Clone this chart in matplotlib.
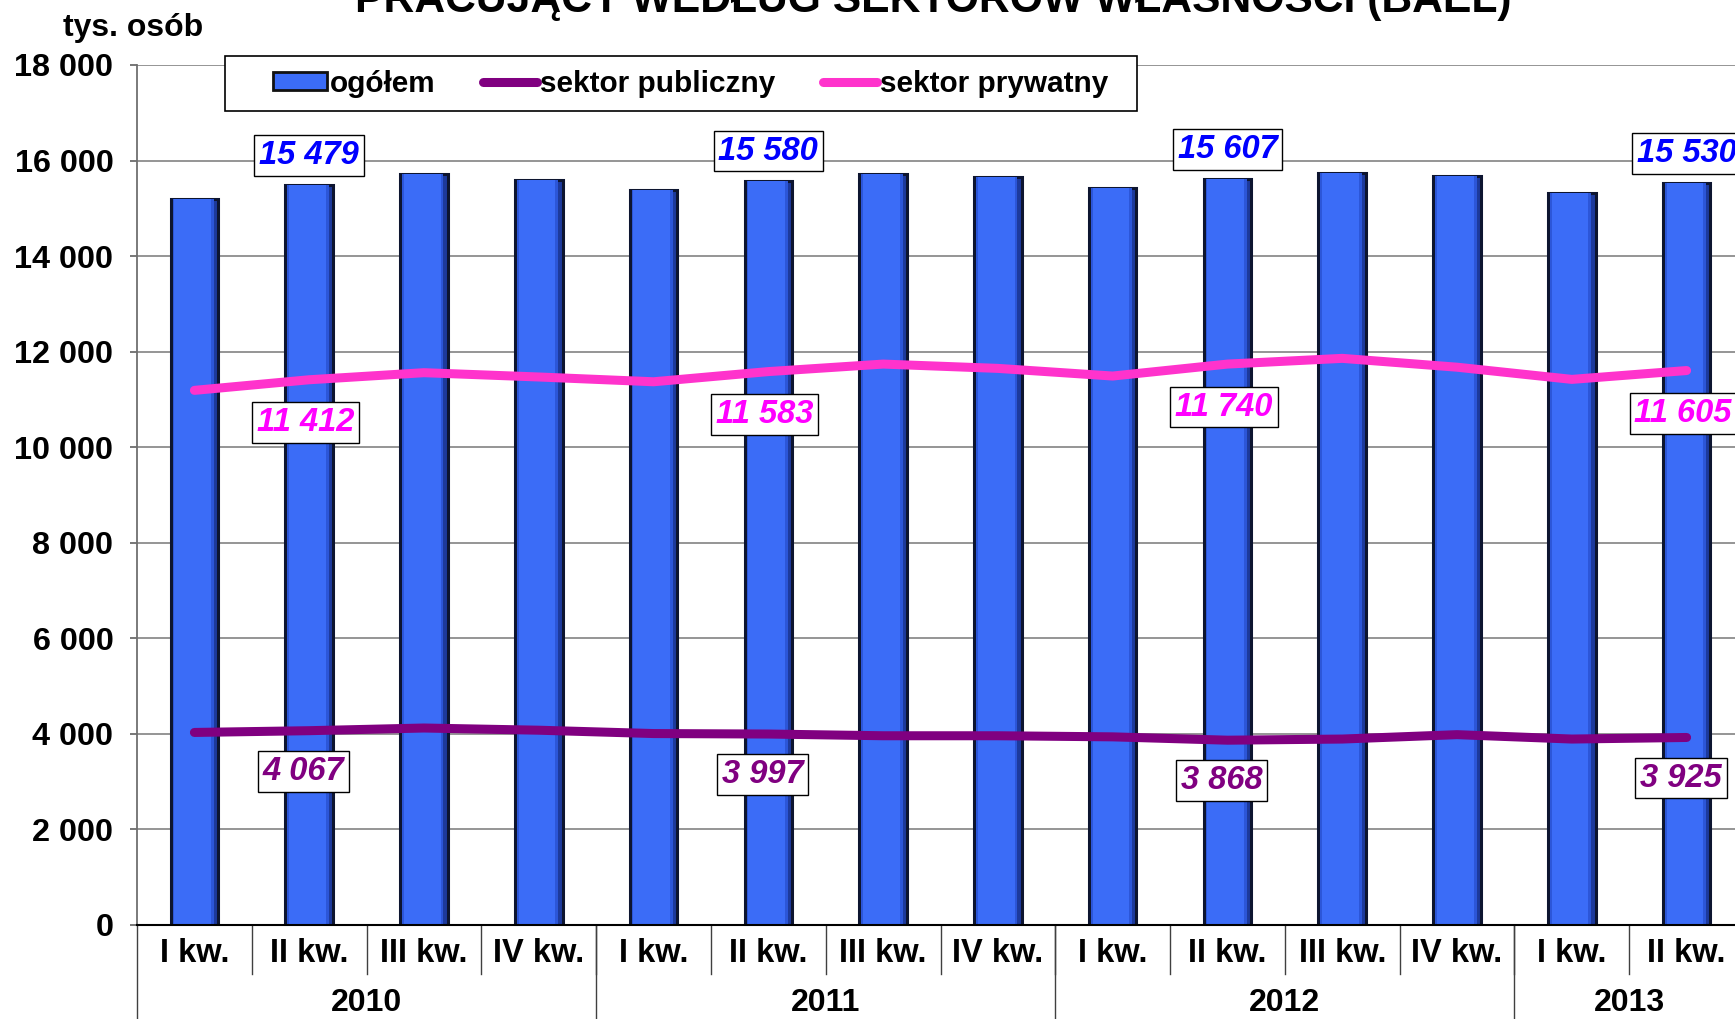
import matplotlib
matplotlib.use("Agg")
import matplotlib.pyplot as plt
from matplotlib.patches import Patch, Rectangle
from matplotlib.lines import Line2D
from matplotlib.ticker import FuncFormatter
import matplotlib.transforms as mtransforms

plt.rcParams['font.family'] = ['Liberation Sans', 'DejaVu Sans']
plt.rcParams['font.weight'] = 'bold'

# dane (tys. osób)
kwartaly = ['I kw.', 'II kw.', 'III kw.', 'IV kw.'] * 3 + ['I kw.', 'II kw.']
lata = ['2010', '2011', '2012', '2013']
lata_n = [4, 4, 4, 2]
ogolem = [15200, 15479, 15720, 15590, 15380, 15580, 15720, 15650,
          15430, 15607, 15750, 15680, 15330, 15530]
prywatny = [11190, 11412, 11560, 11470, 11370, 11583, 11740, 11650,
            11490, 11740, 11860, 11675, 11420, 11605]
publiczny = [4030, 4067, 4123, 4077, 4007, 3997, 3961, 3961,
             3938, 3868, 3892, 3984, 3892, 3925]
etykiety_idx = [1, 5, 9, 13]

BLUE = '#3b6cf7'
PURPLE = '#800080'
PINK = '#ff33cc'

fig = plt.figure(figsize=(17.35, 10.19), dpi=100)
ax = fig.add_axes([137 / 1735, 94 / 1019, 1607 / 1735, 860 / 1019])

x = list(range(len(ogolem)))
# słupki z prostym cieniowaniem (ciemne boki, jasny środek)
ax.bar(x, ogolem, width=0.415, color='#1d3a9c', edgecolor='#0d1530', linewidth=2.2, zorder=2)
ax.bar([i - 0.01 for i in x], ogolem, width=0.36, color='#2c56d8', linewidth=0, zorder=2.1)
ax.bar([i - 0.015 for i in x], ogolem, width=0.32, color=BLUE, linewidth=0, zorder=2.2)
ax.plot(x, publiczny, color=PURPLE, lw=6.5, solid_capstyle='round', zorder=3)
ax.plot(x, prywatny, color=PINK, lw=6.5, solid_capstyle='round', zorder=3)

# etykiety danych
for i in etykiety_idx:
    box = dict(boxstyle='square,pad=0.15', fc='white', ec='black', lw=1)
    ax.text(i, ogolem[i] + 620, f'{ogolem[i]:,}'.replace(',', ' '), ha='center', va='center',
            fontsize=23.5, style='italic', color='#0000ff', bbox=box, zorder=5)
    ax.text(i - 0.03, prywatny[i] - 900, f'{prywatny[i]:,}'.replace(',', ' '), ha='center',
            va='center', fontsize=23.5, style='italic', color='#ff00ff', bbox=box, zorder=5)
    ax.text(i - 0.05, publiczny[i] - 850, f'{publiczny[i]:,}'.replace(',', ' '), ha='center',
            va='center', fontsize=23.5, style='italic', color=PURPLE, bbox=box, zorder=5)

ax.set_xlim(-0.5, len(ogolem) - 0.5)
ax.set_ylim(0, 18000)
ax.set_yticks(range(0, 18001, 2000))
ax.yaxis.set_major_formatter(FuncFormatter(lambda v, p: f'{int(v):,}'.replace(',', ' ')))
ax.tick_params(axis='y', length=5, width=1.2, color='#606060', pad=12, labelsize=23.3)
ax.grid(axis='y', color='#8c8c8c', lw=1.3, zorder=0)
ax.set_axisbelow(True)
for s in ['top', 'right']:
    ax.spines[s].set_visible(False)
ax.spines['left'].set_color('#707070')
ax.spines['left'].set_linewidth(1.3)
ax.spines['bottom'].set_color('black')
ax.spines['bottom'].set_linewidth(1.5)

# oś X dwupoziomowa
ax.set_xticks([])
trans = mtransforms.blended_transform_factory(ax.transData, ax.transAxes)
for i, q in enumerate(kwartaly):
    ax.text(i, -0.0335, q, transform=trans, ha='center', va='center', fontsize=23.5, clip_on=False)
for k in range(len(ogolem) - 1):
    ax.plot([k + 0.5, k + 0.5], [0, -0.057], transform=trans, color='#404040', lw=1, clip_on=False)
start = 0
for rok, n in zip(lata, lata_n):
    ax.text(start + n / 2 - 0.5, -0.0905, rok, transform=trans, ha='center', va='center',
            fontsize=23, clip_on=False)
    ax.plot([start - 0.5, start - 0.5], [0, -0.12], transform=trans, color='#404040', lw=1,
            clip_on=False)
    start += n

# legenda
fig.patches.append(Rectangle((225 / 1735, 1 - 111 / 1019), 912 / 1735, 55 / 1019,
                             transform=fig.transFigure, fc='white', ec='black', lw=1.2, zorder=4))
handles = [Patch(facecolor=BLUE, edgecolor='#111111', linewidth=2),
           Line2D([], [], color=PURPLE, lw=6.5, solid_capstyle='round'),
           Line2D([], [], color=PINK, lw=6.5, solid_capstyle='round')]
leg = fig.legend(handles, ['ogółem', 'sektor publiczny', 'sektor prywatny'], ncol=3,
                 loc='center left', bbox_to_anchor=(273 / 1735, 1 - 83.5 / 1019),
                 frameon=False, fontsize=21.4, handlelength=1.8, handleheight=0.55,
                 handletextpad=0.1, columnspacing=1.62, borderpad=0, borderaxespad=0)
leg.set_zorder(5)

fig.text(63 / 1735, 1 - 36 / 1019, 'tys. osób', ha='left', va='baseline', fontsize=23)
fig.text(933 / 1735, 1 - 12 / 1019, 'PRACUJĄCY WEDŁUG SEKTORÓW WŁASNOŚCI (BAEL)',
         ha='center', va='baseline', fontsize=30.7)

fig.savefig('out.png', dpi=100)
